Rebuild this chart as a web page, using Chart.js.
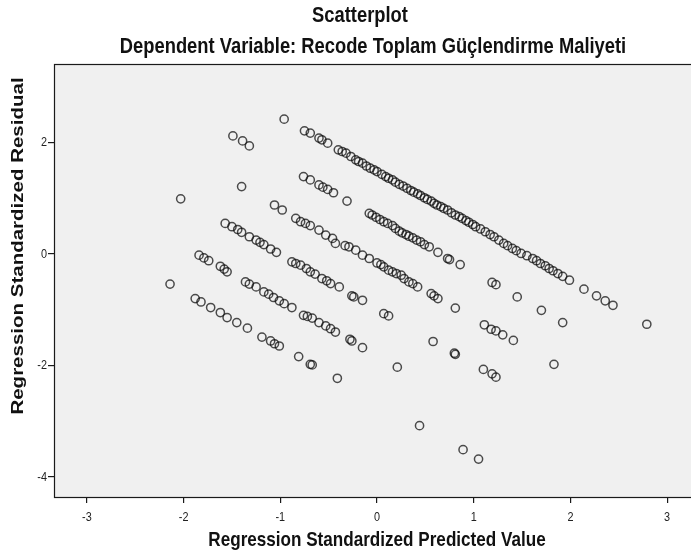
<!DOCTYPE html>
<html>
<head>
<meta charset="utf-8">
<script src="https://cdn.jsdelivr.net/npm/chart.js@4.4.1/dist/chart.umd.min.js"></script>
<style>
  html, body { margin: 0; padding: 0; background: #fff; overflow: hidden; }
  #wrap { width: 720px; height: 557px; }
</style>
</head>
<body>
<div id="wrap"><canvas id="scatter" width="720" height="557"></canvas></div>
<script>
// SPSS residual plot, one array per diagonal band

const chartTitle = 'Scatterplot';
const chartSubtitle = 'Dependent Variable: Recode Toplam Güçlendirme Maliyeti';
const xTitle = 'Regression Standardized Predicted Value';
const yTitle = 'Regression Standardized Residual';

const xTicks = [-3, -2, -1, 0, 1, 2, 3];
const yTicks = [-4, -2, 0, 2];

// [predicted, residual]
const bandA = [[-0.96,2.42],[-0.75,2.21],[-0.69,2.17],[-0.60,2.08],[-0.57,2.05],[-0.51,1.99],[-0.40,1.87],[-0.36,1.84],[-0.32,1.81],[-0.27,1.75],[-0.22,1.69],[-0.19,1.66],[-0.15,1.63],[-0.11,1.58],[-0.07,1.54],[-0.03,1.51],[0.00,1.48],[0.05,1.43],[0.09,1.39],[0.12,1.36],[0.16,1.33],[0.19,1.29],[0.23,1.25],[0.27,1.22],[0.31,1.18],[0.35,1.14],[0.38,1.11],[0.42,1.08],[0.45,1.05],[0.49,1.01],[0.52,0.98],[0.56,0.95],[0.59,0.91],[0.62,0.88],[0.66,0.85],[0.69,0.82],[0.73,0.79],[0.77,0.74],[0.81,0.70],[0.85,0.67],[0.88,0.64],[0.92,0.60],[0.95,0.57],[0.99,0.53],[1.02,0.49],[1.07,0.45],[1.12,0.40],[1.17,0.35],[1.21,0.31],[1.26,0.25],[1.31,0.19],[1.35,0.15],[1.40,0.10],[1.44,0.06],[1.49,0.01],[1.55,-0.03],[1.61,-0.08],[1.65,-0.12],[1.69,-0.17],[1.74,-0.21],[1.78,-0.26],[1.82,-0.30],[1.87,-0.35],[1.92,-0.40],[1.99,-0.47],[2.14,-0.63],[2.27,-0.75],[2.36,-0.84],[2.44,-0.92],[2.79,-1.26]];
const bandB = [[-1.49,2.12],[-1.39,2.03],[-1.32,1.94],[-0.76,1.39],[-0.69,1.33],[-0.60,1.24],[-0.56,1.20],[-0.51,1.16],[-0.45,1.10],[-0.31,0.95],[-0.08,0.73],[-0.05,0.70],[-0.01,0.66],[0.03,0.62],[0.07,0.58],[0.11,0.55],[0.16,0.51],[0.19,0.46],[0.23,0.41],[0.26,0.38],[0.30,0.35],[0.33,0.32],[0.37,0.29],[0.41,0.25],[0.45,0.22],[0.49,0.17],[0.54,0.13],[0.63,0.03],[0.73,-0.08],[0.75,-0.10],[0.86,-0.19],[1.19,-0.51],[1.23,-0.55],[1.45,-0.77],[1.70,-1.01],[1.92,-1.23]];
const bandC = [[-1.40,1.21],[-1.06,0.88],[-0.98,0.79],[-0.84,0.64],[-0.79,0.58],[-0.74,0.55],[-0.69,0.51],[-0.60,0.43],[-0.53,0.34],[-0.46,0.28],[-0.43,0.19],[-0.33,0.15],[-0.29,0.13],[-0.22,0.07],[-0.15,-0.02],[-0.08,-0.08],[0.00,-0.16],[0.04,-0.19],[0.07,-0.23],[0.12,-0.29],[0.16,-0.32],[0.20,-0.35],[0.25,-0.38],[0.28,-0.44],[0.33,-0.50],[0.37,-0.53],[0.42,-0.59],[0.56,-0.71],[0.59,-0.75],[0.63,-0.80],[0.81,-0.97],[1.11,-1.27],[1.18,-1.35],[1.23,-1.38],[1.30,-1.45],[1.41,-1.55],[1.83,-1.98]];
const bandD = [[-2.03,0.99],[-1.57,0.55],[-1.50,0.49],[-1.44,0.44],[-1.40,0.39],[-1.32,0.31],[-1.25,0.25],[-1.21,0.21],[-1.17,0.17],[-1.10,0.09],[-1.04,0.03],[-0.88,-0.14],[-0.84,-0.17],[-0.79,-0.20],[-0.73,-0.26],[-0.69,-0.32],[-0.64,-0.36],[-0.57,-0.44],[-0.52,-0.48],[-0.48,-0.53],[-0.39,-0.59],[-0.26,-0.75],[-0.24,-0.77],[-0.15,-0.83],[0.07,-1.07],[0.12,-1.11],[0.58,-1.57],[0.80,-1.78],[0.81,-1.80],[1.10,-2.07],[1.19,-2.15],[1.23,-2.21]];
const bandE = [[-1.84,-0.02],[-1.79,-0.07],[-1.74,-0.12],[-1.62,-0.22],[-1.58,-0.27],[-1.55,-0.32],[-1.36,-0.50],[-1.32,-0.54],[-1.25,-0.59],[-1.17,-0.68],[-1.12,-0.72],[-1.07,-0.78],[-1.01,-0.84],[-0.96,-0.89],[-0.88,-0.96],[-0.76,-1.10],[-0.72,-1.12],[-0.67,-1.15],[-0.60,-1.23],[-0.53,-1.29],[-0.48,-1.34],[-0.43,-1.40],[-0.28,-1.53],[-0.26,-1.56],[-0.15,-1.68],[0.21,-2.03]];
const bandF = [[-2.14,-0.54],[-1.88,-0.80],[-1.82,-0.86],[-1.72,-0.96],[-1.62,-1.05],[-1.55,-1.14],[-1.45,-1.23],[-1.34,-1.33],[-1.19,-1.49],[-1.10,-1.56],[-1.06,-1.61],[-1.01,-1.65],[-0.81,-1.84],[-0.69,-1.98],[-0.67,-1.99],[-0.41,-2.23]];
const outliers = [[0.44,-3.08],[0.89,-3.51],[1.05,-3.68]];

const SQUISH = 0.834;   // the picture is narrower than it is tall
const FONT = '"Liberation Sans", Arial, sans-serif';

function squishText(ctx, text, x, y, size, bold, align, color, rotate) {
    ctx.save();
    ctx.translate(x, y);
    if (rotate) {
        ctx.rotate(-Math.PI / 2);
        ctx.scale(1, SQUISH);
    } else {
        ctx.scale(SQUISH, 1);
    }
    ctx.font = (bold ? 'bold ' : '') + size + 'px ' + FONT;
    ctx.fillStyle = color;
    ctx.textAlign = align;
    ctx.textBaseline = 'middle';
    ctx.fillText(text, 0, 0);
    ctx.restore();
}

const plotFrame = {
    id: 'plotFrame',
    beforeDatasetsDraw(chart) {
        const { ctx, chartArea: a } = chart;
        ctx.save();
        ctx.fillStyle = '#f0f0f0';
        ctx.fillRect(a.left, a.top, a.right - a.left, a.bottom - a.top);
        ctx.restore();
    },
    afterDraw(chart) {
        const { ctx, chartArea: a, scales } = chart;
        ctx.save();
        ctx.strokeStyle = '#1a1a1a';
        ctx.lineWidth = 1.2;
        ctx.strokeRect(a.left + 0.5, a.top + 0.5, a.right - a.left, a.bottom - a.top);
        ctx.restore();

        xTicks.forEach(v => {
            squishText(ctx, String(v), scales.x.getPixelForValue(v), 517, 13, false, 'center', '#222');
        });
        yTicks.forEach(v => {
            squishText(ctx, String(v), 47, scales.y.getPixelForValue(v), 13, false, 'right', '#222');
        });

        squishText(ctx, chartTitle, 360, 16, 22, true, 'center', '#111');
        squishText(ctx, chartSubtitle, 373, 47, 22, true, 'center', '#111');
        squishText(ctx, xTitle, 377, 540, 20.5, true, 'center', '#111');
        squishText(ctx, yTitle, 18, 246, 20.5, true, 'center', '#111', true);
    }
};

function bandDataset(points) {
    return {
        data: points.map(p => ({ x: p[0], y: p[1] })),
        pointStyle: 'circle',
        pointRadius: 4.1,
        pointHoverRadius: 4.1,
        borderWidth: 1.5,
        borderColor: 'rgba(10,10,10,0.72)',
        backgroundColor: 'rgba(0,0,0,0)'
    };
}

const axisGrid = { drawOnChartArea: false, drawTicks: true, tickLength: 6, color: '#1a1a1a', lineWidth: 1.2 };

new Chart(document.getElementById('scatter').getContext('2d'), {
    type: 'scatter',
    data: {
        datasets: [bandA, bandB, bandC, bandD, bandE, bandF, outliers].map(bandDataset)
    },
    options: {
        responsive: false,
        animation: false,
        devicePixelRatio: 1,
        layout: { padding: { top: 64, right: 20, left: 0, bottom: 0 } },
        plugins: {
            legend: { display: false },
            title: { display: false },
            tooltip: { enabled: false }
        },
        scales: {
            x: {
                type: 'linear',
                min: -3.34,
                max: 3.34,
                afterBuildTicks: s => { s.ticks = xTicks.map(v => ({ value: v })); },
                afterFit: s => { s.height = 60; },
                ticks: { display: false },
                grid: axisGrid,
                border: { display: false }
            },
            y: {
                type: 'linear',
                min: -4.36,
                max: 3.41,
                afterBuildTicks: s => { s.ticks = yTicks.map(v => ({ value: v })); },
                afterFit: s => { s.width = 54; },
                ticks: { display: false },
                grid: axisGrid,
                border: { display: false }
            }
        }
    },
    plugins: [plotFrame]
});
</script>
</body>
</html>
